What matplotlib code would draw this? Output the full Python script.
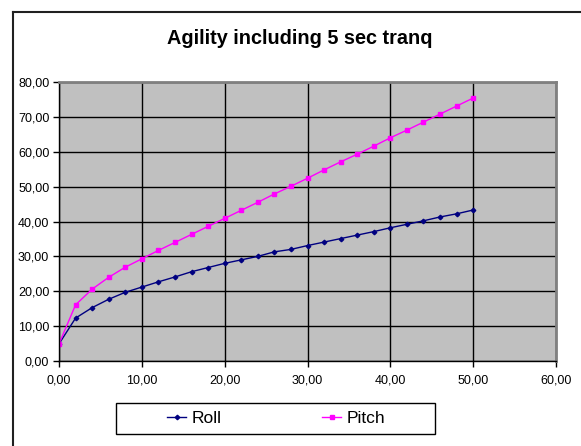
import matplotlib
matplotlib.use("Agg")
import matplotlib.pyplot as plt
from matplotlib.ticker import FuncFormatter, MultipleLocator
from matplotlib.lines import Line2D
from matplotlib.patches import Rectangle

plt.rcParams['font.family'] = ['Liberation Sans', 'DejaVu Sans']

# data
x_vals = [0, 2, 4, 6, 8, 10, 12, 14, 16, 18, 20, 22, 24, 26, 28, 30,
          32, 34, 36, 38, 40, 42, 44, 46, 48, 50]
roll = [4.9, 12.3, 15.3, 17.7, 19.7, 21.2, 22.7, 24.1, 25.6, 26.8, 28.0, 29.0, 30.0,
        31.3, 32.0, 33.1, 34.1, 35.1, 36.1, 37.1, 38.2, 39.2, 40.2, 41.3, 42.2, 43.3]
pitch = [4.9, 16.1, 20.6, 24.0, 26.9, 29.3, 31.7, 34.0, 36.3, 38.6, 40.9, 43.2, 45.5,
         47.9, 50.1, 52.4, 54.8, 57.1, 59.3, 61.6, 64.0, 66.2, 68.5, 70.8, 73.1, 75.4]

W, H = 581, 446
fig = plt.figure(figsize=(W / 100, H / 100), dpi=100)
ax = fig.add_axes([59 / W, 1 - 361 / H, (556 - 59) / W, (361 - 82) / H])
ax.set_facecolor('#C0C0C0')

ax.plot(x_vals, roll, color='#000080', marker='D', markersize=2.3, linewidth=1, label='Roll')
ax.plot(x_vals, pitch, color='#FF00FF', marker='s', markersize=2.3, linewidth=1, label='Pitch')

ax.set_xlim(0, 60)
ax.set_ylim(0, 80)
ax.xaxis.set_major_locator(MultipleLocator(10))
ax.yaxis.set_major_locator(MultipleLocator(10))
fmt = FuncFormatter(lambda v, p: f"{v:.2f}".replace('.', ','))
ax.xaxis.set_major_formatter(fmt)
ax.yaxis.set_major_formatter(fmt)
ax.grid(True, color='black', linewidth=1)
ax.set_axisbelow(True)
ax.tick_params(direction='out', length=4, width=1, labelsize=9, color='black')
ax.tick_params(axis='x', pad=6)
ax.tick_params(axis='y', pad=3)
for side in ['top', 'right']:
    ax.spines[side].set_color('#808080')
    ax.spines[side].set_linewidth(2)
for side in ['left', 'bottom']:
    ax.spines[side].set_color('black')
    ax.spines[side].set_linewidth(1)

fig.text(300 / W, 1 - 39 / H, 'Agility including 5 sec tranq', ha='center', va='center',
         fontsize=14.3, fontweight='bold')

# legend entries without frame, box drawn separately to match the wide Excel legend
leg = fig.legend(loc='center', bbox_to_anchor=(276 / W, 1 - 418 / H), ncol=2,
                 fontsize=12.5, frameon=False, columnspacing=5.8,
                 handlelength=1.1, handletextpad=0.3)
fig.add_artist(Rectangle((116 / W, 1 - 434 / H), (435 - 116) / W, (434 - 403) / H,
                         transform=fig.transFigure, fill=False, edgecolor='black', linewidth=1))

# outer chart frame (only left and top edges are visible)
fig.add_artist(Line2D([12.5 / W, 12.5 / W], [0, 1 - 11.5 / H], color='#202020', linewidth=1.5))
fig.add_artist(Line2D([12.5 / W, 1], [1 - 11.5 / H, 1 - 11.5 / H], color='#202020', linewidth=1.5))

fig.savefig('out.png', dpi=100)
